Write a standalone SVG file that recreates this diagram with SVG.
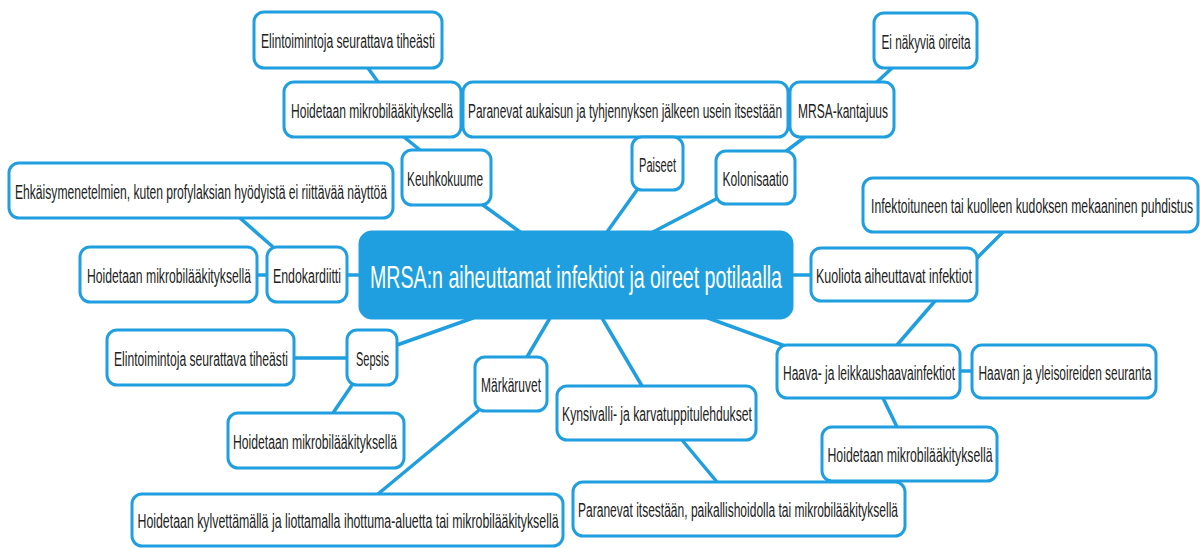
<svg xmlns="http://www.w3.org/2000/svg" width="1200" height="549" viewBox="0 0 1200 549">
<style>
.bg{fill:#ffffff}
.c line{stroke:#1f9fdf;stroke-width:3.5;stroke-linecap:round}
.n rect{fill:#ffffff;stroke:#1f9fdf;stroke-width:3}
.n text{font-family:"Liberation Sans",Arial,sans-serif;font-size:20px;fill:#222222;text-anchor:middle}
#central rect{fill:#1f9fdf;stroke:#1f9fdf}
#central text{fill:#ffffff;font-size:32px}
</style>
<rect class="bg" x="0" y="0" width="1200" height="549"/>
<g id="connectors" class="c">
<line x1="368" y1="68" x2="378" y2="82"/>
<line x1="404" y1="137" x2="420" y2="150"/>
<line x1="483" y1="205" x2="520" y2="232"/>
<line x1="637" y1="190" x2="607" y2="232"/>
<line x1="720" y1="197" x2="653" y2="232"/>
<line x1="785" y1="152" x2="805" y2="137"/>
<line x1="877" y1="82" x2="892" y2="68"/>
<line x1="240" y1="218" x2="273" y2="247"/>
<line x1="257" y1="275" x2="267" y2="275"/>
<line x1="347" y1="275" x2="360" y2="275"/>
<line x1="792" y1="275" x2="811" y2="275"/>
<line x1="977" y1="258" x2="1003" y2="232"/>
<line x1="935" y1="301" x2="897" y2="345"/>
<line x1="708" y1="318" x2="788" y2="347"/>
<line x1="473" y1="318" x2="397" y2="345"/>
<line x1="294" y1="358" x2="347" y2="358"/>
<line x1="352" y1="385" x2="333" y2="413"/>
<line x1="550" y1="318" x2="527" y2="357"/>
<line x1="478" y1="411" x2="378" y2="494"/>
<line x1="602" y1="318" x2="642" y2="386"/>
<line x1="682" y1="440" x2="717" y2="482"/>
<line x1="960" y1="371" x2="972" y2="371"/>
<line x1="883" y1="398" x2="897" y2="427"/>
</g>
<g id="central" class="n"><rect x="360" y="232" width="432" height="86" rx="12"/><text x="576" y="288" textLength="412" lengthAdjust="spacingAndGlyphs">MRSA:n aiheuttamat infektiot ja oireet potilaalla</text></g>
<g id="n-elin-top" class="n"><rect x="254" y="12" width="188" height="56" rx="10"/><text x="348" y="48" textLength="174" lengthAdjust="spacingAndGlyphs">Elintoimintoja seurattava tiheästi</text></g>
<g id="n-hoid-top" class="n"><rect x="284" y="82" width="177" height="55" rx="10"/><text x="372" y="118" textLength="162" lengthAdjust="spacingAndGlyphs">Hoidetaan mikrobilääkityksellä</text></g>
<g id="n-paranevat-top" class="n"><rect x="463" y="82" width="325" height="55" rx="10"/><text x="625" y="118" textLength="314" lengthAdjust="spacingAndGlyphs">Paranevat aukaisun ja tyhjennyksen jälkeen usein itsestään</text></g>
<g id="n-mrsa-kanta" class="n"><rect x="790" y="82" width="104" height="55" rx="10"/><text x="843" y="118" textLength="90" lengthAdjust="spacingAndGlyphs">MRSA-kantajuus</text></g>
<g id="n-ei" class="n"><rect x="874" y="13" width="103" height="55" rx="10"/><text x="926" y="49" textLength="89" lengthAdjust="spacingAndGlyphs">Ei näkyviä oireita</text></g>
<g id="n-keuhko" class="n"><rect x="402" y="150" width="89" height="55" rx="10"/><text x="445" y="186" textLength="76" lengthAdjust="spacingAndGlyphs">Keuhkokuume</text></g>
<g id="n-paiseet" class="n"><rect x="632" y="137" width="51" height="53" rx="10"/><text x="657.5" y="172" textLength="37" lengthAdjust="spacingAndGlyphs">Paiseet</text></g>
<g id="n-kolonisaatio" class="n"><rect x="716" y="151" width="79" height="53" rx="10"/><text x="755.5" y="186" textLength="66" lengthAdjust="spacingAndGlyphs">Kolonisaatio</text></g>
<g id="n-ehkaisy" class="n"><rect x="9" y="163" width="384" height="55" rx="10"/><text x="201" y="199" textLength="372" lengthAdjust="spacingAndGlyphs">Ehkäisymenetelmien, kuten profylaksian hyödyistä ei riittävää näyttöä</text></g>
<g id="n-infekt" class="n"><rect x="863" y="178" width="335" height="54" rx="10"/><text x="1032" y="213" textLength="322" lengthAdjust="spacingAndGlyphs">Infektoituneen tai kuolleen kudoksen mekaaninen puhdistus</text></g>
<g id="n-hoid-endo" class="n"><rect x="80" y="247" width="177" height="55" rx="10"/><text x="169" y="283" textLength="164" lengthAdjust="spacingAndGlyphs">Hoidetaan mikrobilääkityksellä</text></g>
<g id="n-endo" class="n"><rect x="267" y="247" width="80" height="55" rx="10"/><text x="307" y="283" textLength="68" lengthAdjust="spacingAndGlyphs">Endokardiitti</text></g>
<g id="n-kuoliota" class="n"><rect x="811" y="248" width="166" height="53" rx="10"/><text x="894" y="283" textLength="156" lengthAdjust="spacingAndGlyphs">Kuoliota aiheuttavat infektiot</text></g>
<g id="n-elin-sepsis" class="n"><rect x="107" y="330" width="187" height="55" rx="10"/><text x="201" y="366" textLength="174" lengthAdjust="spacingAndGlyphs">Elintoimintoja seurattava tiheästi</text></g>
<g id="n-sepsis" class="n"><rect x="347" y="330" width="50" height="55" rx="10"/><text x="372.5" y="366" textLength="33" lengthAdjust="spacingAndGlyphs">Sepsis</text></g>
<g id="n-haava" class="n"><rect x="777" y="345" width="183" height="53" rx="10"/><text x="869" y="380" textLength="172" lengthAdjust="spacingAndGlyphs">Haava- ja leikkaushaavainfektiot</text></g>
<g id="n-haavan" class="n"><rect x="972" y="345" width="184" height="53" rx="10"/><text x="1065" y="380" textLength="173" lengthAdjust="spacingAndGlyphs">Haavan ja yleisoireiden seuranta</text></g>
<g id="n-markaruvet" class="n"><rect x="475" y="357" width="72" height="54" rx="10"/><text x="511" y="392" textLength="60" lengthAdjust="spacingAndGlyphs">Märkäruvet</text></g>
<g id="n-kynsivalli" class="n"><rect x="557" y="386" width="199" height="54" rx="10"/><text x="657" y="421" textLength="190" lengthAdjust="spacingAndGlyphs">Kynsivalli- ja karvatuppitulehdukset</text></g>
<g id="n-hoid-sepsis" class="n"><rect x="228" y="413" width="176" height="55" rx="10"/><text x="315" y="449" textLength="164" lengthAdjust="spacingAndGlyphs">Hoidetaan mikrobilääkityksellä</text></g>
<g id="n-hoid-haava" class="n"><rect x="822" y="427" width="175" height="54" rx="10"/><text x="910" y="462" textLength="165" lengthAdjust="spacingAndGlyphs">Hoidetaan mikrobilääkityksellä</text></g>
<g id="n-paranevat-bottom" class="n"><rect x="573" y="482" width="332" height="54" rx="10"/><text x="738" y="517" textLength="320" lengthAdjust="spacingAndGlyphs">Paranevat itsestään, paikallishoidolla tai mikrobilääkityksellä</text></g>
<g id="n-kylvettamalla" class="n"><rect x="132" y="494" width="431" height="52" rx="10"/><text x="348" y="528" textLength="421" lengthAdjust="spacingAndGlyphs">Hoidetaan kylvettämällä ja liottamalla ihottuma-aluetta tai mikrobilääkityksellä</text></g>
</svg>
